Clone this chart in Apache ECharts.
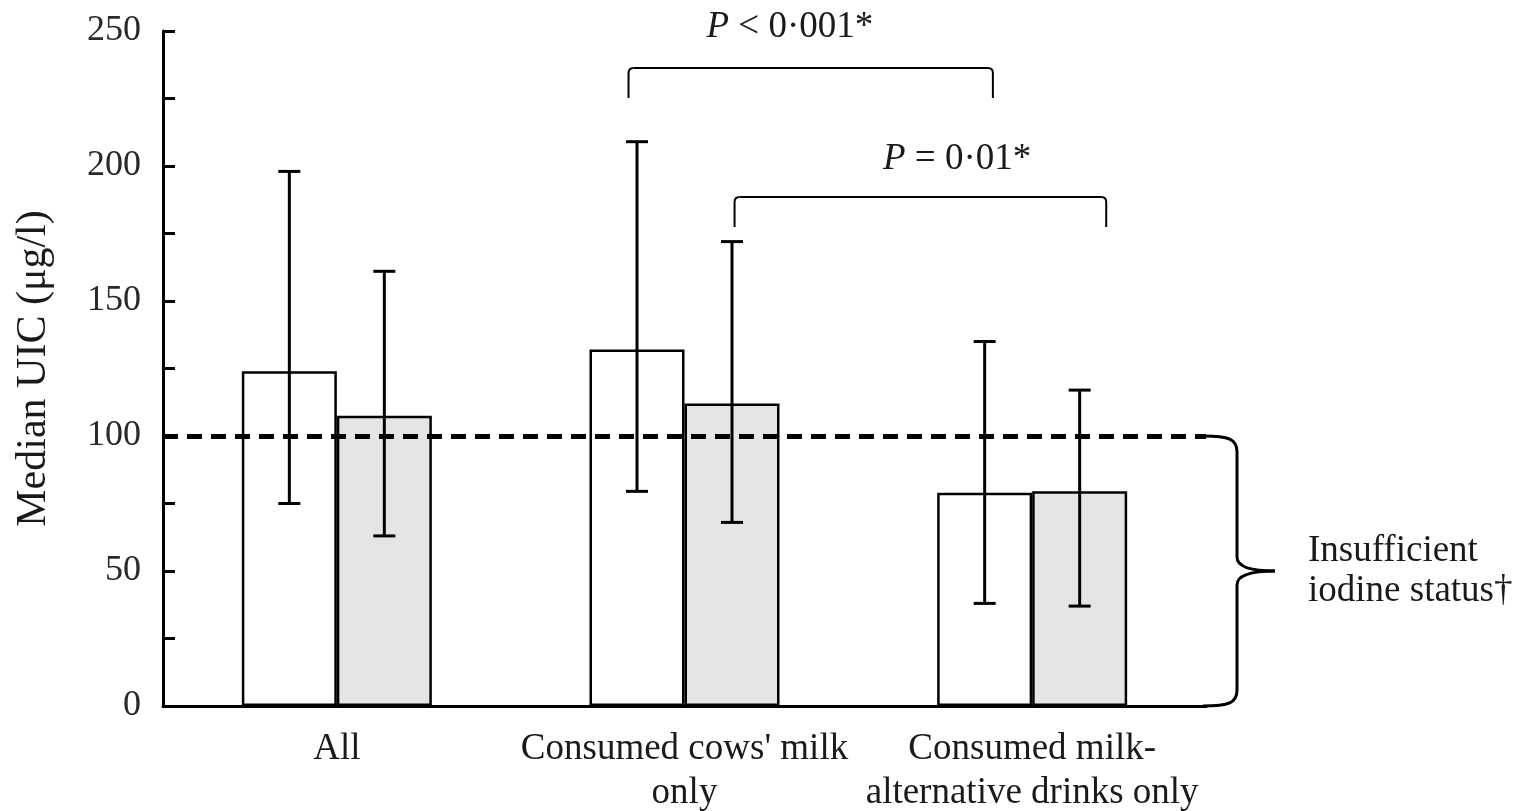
<!DOCTYPE html>
<html>
<head>
<meta charset="utf-8">
<script src="https://cdn.jsdelivr.net/npm/echarts@6/dist/echarts.min.js"></script>
<style>
html, body { margin: 0; padding: 0; background: #ffffff; }
#chart { width: 1520px; height: 811px; }
</style>
</head>
<body>
<div id="chart"></div>
<script>
// ---- data ----
const categories = ['All', "Consumed cows' milk\nonly", 'Consumed milk-\nalternative drinks only'];
const seriesNames = ['Group 1', 'Group 2'];
const medianWhite = [124, 132, 79];
const medianGrey = [107.5, 112, 79.5];
const lowWhite = [75, 79.5, 38];
const highWhite = [198, 209, 135];
const lowGrey = [63, 68, 37];
const highGrey = [161, 172, 117];
const yTickValues = [0, 50, 100, 150, 200, 250];
const threshold = 100;
const thresholdLabel = 'Insufficient\niodine status\u2020';
const comparisons = [
  { label: 'P < 0\u00b7001*', fromCat: 1, fromOff: -0.161, toCat: 2, toOff: -0.113, top: 236.3, leg: 225.2, textCat: 1, textOff: 0.303, textVal: 251.5 },
  { label: 'P = 0\u00b701*', fromCat: 1, fromOff: 0.144, toCat: 2, toOff: 0.213, top: 188.5, leg: 177.4, textCat: 2, textOff: -0.216, textVal: 202.5 }
];

// ---- style ----
const FONT = '"Liberation Serif", "Times New Roman", serif';
const TXT = '#1a1a1a';
const BAR_W = 95;

const chart = echarts.init(document.getElementById('chart'), null, { renderer: 'canvas' });

function errorSeries(name, low, high, side) {
  return {
    type: 'custom',
    name: name,
    z: 6,
    silent: true,
    data: categories.map((c, i) => [i, low[i], high[i]]),
    encode: { x: 0, y: [1, 2] },
    renderItem: function (params, api) {
      const i = api.value(0);
      const lo = api.coord([i, api.value(1)]);
      const hi = api.coord([i, api.value(2)]);
      const x = lo[0] + side * BAR_W / 2;
      const cap = 11;
      const st = { stroke: '#000', lineWidth: 3 };
      return {
        type: 'group',
        children: [
          { type: 'line', shape: { x1: x, y1: lo[1], x2: x, y2: hi[1] }, style: st },
          { type: 'line', shape: { x1: x - cap, y1: hi[1], x2: x + cap, y2: hi[1] }, style: st },
          { type: 'line', shape: { x1: x - cap, y1: lo[1], x2: x + cap, y2: lo[1] }, style: st }
        ]
      };
    }
  };
}

chart.setOption({
  animation: false,
  backgroundColor: '#ffffff',
  grid: { left: 163, right: 314, top: 31, bottom: 105, containLabel: false, outerBoundsMode: 'none' },
  xAxis: {
    type: 'category',
    data: categories,
    axisLine: { show: true, lineStyle: { color: '#000', width: 3 } },
    axisTick: { show: false },
    axisLabel: { fontFamily: FONT, fontSize: 37, lineHeight: 44, color: TXT, margin: 21, interval: 0 },
    splitLine: { show: false }
  },
  yAxis: {
    type: 'value',
    min: 0,
    max: 250,
    interval: 50,
    name: 'Median UIC (\u03bcg/l)',
    nameLocation: 'middle',
    nameRotate: 90,
    nameGap: 108,
    nameTextStyle: { fontFamily: FONT, fontSize: 42, color: TXT },
    axisLine: { show: true, lineStyle: { color: '#000', width: 3 } },
    axisTick: { show: true, inside: true, length: 12, lineStyle: { color: '#000', width: 3 } },
    minorTick: { show: true, splitNumber: 2, length: 12, lineStyle: { color: '#000', width: 3 } },
    axisLabel: {
      fontFamily: FONT, fontSize: 36, color: '#2a2a2a', margin: 22,
      formatter: function (v) { return yTickValues.indexOf(v) >= 0 ? String(v) : ''; }
    },
    splitLine: { show: false },
    minorSplitLine: { show: false }
  },
  series: [
    {
      type: 'bar',
      name: seriesNames[0],
      data: medianWhite,
      barWidth: BAR_W,
      barGap: '0%',
      itemStyle: { color: '#ffffff', borderColor: '#000', borderWidth: 2.5 },
      z: 2
    },
    {
      type: 'bar',
      name: seriesNames[1],
      data: medianGrey,
      barWidth: BAR_W,
      barGap: '0%',
      itemStyle: { color: '#e6e5e6', borderColor: '#000', borderWidth: 2.5 },
      z: 2,
      markLine: {
        silent: true,
        symbol: 'none',
        label: { show: false },
        z: 8,
        lineStyle: { color: '#000', width: 5, type: [15, 9] },
        data: [{ yAxis: threshold }]
      }
    },
    errorSeries('err1', lowWhite, highWhite, -1),
    errorSeries('err2', lowGrey, highGrey, 1)
  ]
});

// ---- annotations, positioned through the axes ----
function catX(cat, off) {
  const c0 = chart.convertToPixel({ xAxisIndex: 0 }, 0);
  const c1 = chart.convertToPixel({ xAxisIndex: 0 }, 1);
  const band = c1 - c0;
  return chart.convertToPixel({ xAxisIndex: 0 }, cat) + off * band;
}
function valY(v) { return chart.convertToPixel({ yAxisIndex: 0 }, v); }

const gfx = [];
comparisons.forEach(function (c) {
  const x1 = catX(c.fromCat, c.fromOff), x2 = catX(c.toCat, c.toOff);
  const yt = valY(c.top), yl = valY(c.leg);
  const r = 5;
  const st = { fill: 'none', stroke: '#000', lineWidth: 2 };
  gfx.push({ type: 'line', shape: { x1: x1, y1: yl, x2: x1, y2: yt + r }, style: st, silent: true, z: 10 });
  gfx.push({ type: 'bezierCurve', shape: { x1: x1, y1: yt + r, cpx1: x1, cpy1: yt, x2: x1 + r, y2: yt }, style: st, silent: true, z: 10 });
  gfx.push({ type: 'line', shape: { x1: x1 + r, y1: yt, x2: x2 - r, y2: yt }, style: st, silent: true, z: 10 });
  gfx.push({ type: 'bezierCurve', shape: { x1: x2 - r, y1: yt, cpx1: x2, cpy1: yt, x2: x2, y2: yt + r }, style: st, silent: true, z: 10 });
  gfx.push({ type: 'line', shape: { x1: x2, y1: yt + r, x2: x2, y2: yl }, style: st, silent: true, z: 10 });
  const parts = c.label.split(' ');
  gfx.push({
    type: 'text',
    x: catX(c.textCat, c.textOff),
    y: valY(c.textVal),
    style: {
      text: '{i|' + parts[0] + '} ' + parts.slice(1).join(' '),
      rich: { i: { fontStyle: 'italic', fontFamily: FONT, fontSize: 37, fill: TXT } },
      fontFamily: FONT, fontSize: 37, fill: TXT,
      align: 'center', verticalAlign: 'middle'
    },
    silent: true, z: 10
  });
});

// brace for the insufficient range (0 .. threshold)
(function () {
  const xr = catX(2, 0.5) - 3;
  const yTop = valY(threshold), yBot = valY(0), yMid = (yTop + yBot) / 2;
  const w = 34, tip = 72;
  const st = { fill: 'none', stroke: '#000', lineWidth: 3 };
  const parts = [
    { type: 'bezierCurve', shape: { x1: xr, y1: yTop, cpx1: xr + 26, cpy1: yTop, cpx2: xr + w, cpy2: yTop + 3, x2: xr + w, y2: yTop + 16 } },
    { type: 'line', shape: { x1: xr + w, y1: yTop + 16, x2: xr + w, y2: yMid - 14 } },
    { type: 'bezierCurve', shape: { x1: xr + w, y1: yMid - 14, cpx1: xr + w, cpy1: yMid - 3, cpx2: xr + 52, cpy2: yMid, x2: xr + tip, y2: yMid } },
    { type: 'bezierCurve', shape: { x1: xr + tip, y1: yMid, cpx1: xr + 52, cpy1: yMid, cpx2: xr + w, cpy2: yMid + 3, x2: xr + w, y2: yMid + 14 } },
    { type: 'line', shape: { x1: xr + w, y1: yMid + 14, x2: xr + w, y2: yBot - 16 } },
    { type: 'bezierCurve', shape: { x1: xr + w, y1: yBot - 16, cpx1: xr + w, cpy1: yBot - 3, cpx2: xr + 26, cpy2: yBot, x2: xr, y2: yBot } }
  ];
  parts.forEach(function (p) { p.style = st; p.silent = true; p.z = 10; gfx.push(p); });
  gfx.push({
    type: 'text',
    x: xr + tip + 33,
    y: yMid,
    style: { text: thresholdLabel, fontFamily: FONT, fontSize: 37, lineHeight: 40, fill: TXT, align: 'left', verticalAlign: 'middle' },
    silent: true, z: 10
  });
})();

chart.setOption({ graphic: gfx });
</script>
</body>
</html>
